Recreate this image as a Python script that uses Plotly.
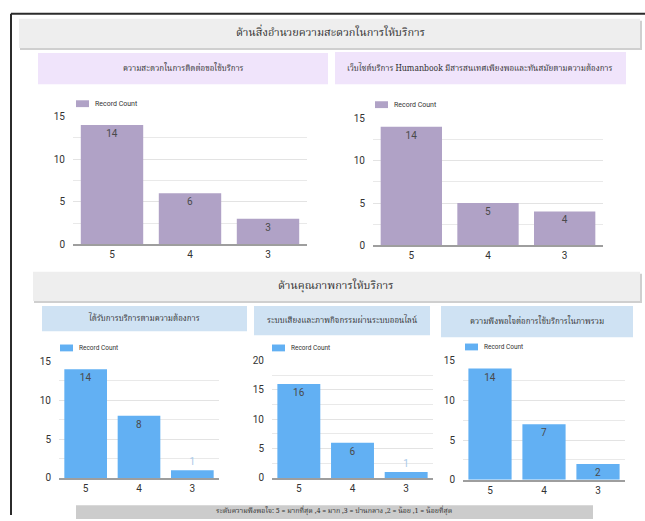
import plotly.graph_objects as go

W, H = 645, 521

# ---------------- data ----------------
categories = ["5", "4", "3"]
chart_titles = [
    "ความสะดวกในการติดต่อขอใช้บริการ",
    "เว็บไซต์บริการ Humanbook มีสารสนเทศเพียงพอและทันสมัยตามความต้องการ",
    "ได้รับการบริการตามความต้องการ",
    "ระบบเสียงและภาพกิจกรรมผ่านระบบออนไลน์",
    "ความพึงพอใจต่อการใช้บริการในภาพรวม",
]
values_c1 = [14, 6, 3]
values_c2 = [14, 5, 4]
values_c3 = [14, 8, 1]
values_c4 = [16, 6, 1]
values_c5 = [14, 7, 2]
y_max = [15, 15, 15, 20, 15]
series_name = "Record Count"
header_top = "ด้านสิ่งอำนวยความสะดวกในการให้บริการ"
header_bottom = "ด้านคุณภาพการให้บริการ"
footer_text = "ระดับความพึงพอใจ: 5 = มากที่สุด ,4 = มาก ,3 = ปานกลาง ,2 = น้อย ,1 = น้อยที่สุด"

PURPLE = "#b0a2c6"
BLUE = "#62b0f3"
THAI_FONT = "Noto Serif Thai, Noto Sans Thai, Tahoma, DejaVu Sans, sans-serif"
NUM_FONT = "Roboto, Arial, sans-serif"


def px(x):
    return x / W


def py(y):
    return 1 - y / H


# layout of each chart: (x0, x1, ytop, ybottom) in pixels
boxes = [
    (73, 307, 113, 244),
    (373, 603, 115, 245),
    (59, 219, 364, 483),
    (272, 433, 363, 483),
    (463, 625, 363, 485),
]
# legend: swatch left x, centre y, font size
legend_pos = [(76, 100, 7), (375, 101, 7), (60, 350, 6.5), (272, 350, 6.5), (465, 349, 6.5)]
series = [values_c1, values_c2, values_c3, values_c4, values_c5]
colors = [PURPLE, PURPLE, BLUE, BLUE, BLUE]

fig = go.Figure()
layout = dict(
    width=W, height=H, margin=dict(l=0, r=0, t=0, b=0),
    paper_bgcolor="white", plot_bgcolor="white",
    showlegend=False, bargap=0.2,
)

shapes = []
annotations = []


def rect(x0, y0, x1, y1, fill, line=None, layer="below"):
    shapes.append(dict(type="rect", xref="paper", yref="paper",
                       x0=px(x0), x1=px(x1), y0=py(y1), y1=py(y0),
                       fillcolor=fill, line=dict(width=0) if line is None else line,
                       layer=layer))


def text(x, y, s, size, color="#333333", family=THAI_FONT, anchor="center"):
    annotations.append(dict(xref="paper", yref="paper", x=px(x), y=py(y),
                            text=s, showarrow=False, xanchor=anchor,
                            yanchor="middle",
                            font=dict(size=size, color=color, family=family)))


for i, (vals, col, (x0, x1, yt, yb), (lx, ly, lfs), ymx) in enumerate(
        zip(series, colors, boxes, legend_pos, y_max)):
    n = i + 1
    xa = "x" if n == 1 else f"x{n}"
    ya = "y" if n == 1 else f"y{n}"
    positions = ["inside" if v >= 2 else "outside" for v in vals]
    tcolors = ["#4a4a4a" if v >= 2 else "#a9c9e8" for v in vals]
    fig.add_trace(go.Bar(
        x=categories, y=vals, name=series_name, marker_color=col,
        marker_line_width=0, xaxis=xa, yaxis=ya,
        text=[str(v) for v in vals], textposition=positions,
        insidetextanchor="end", textangle=0, constraintext="none",
        textfont=dict(color=tcolors, size=10, family=NUM_FONT),
        cliponaxis=False, hoverinfo="skip",
    ))
    xkey = "xaxis" if n == 1 else f"xaxis{n}"
    ykey = "yaxis" if n == 1 else f"yaxis{n}"
    layout[xkey] = dict(
        domain=[px(x0), px(x1)], anchor=ya, showgrid=False,
        showline=True, linecolor="#9e9e9e", linewidth=1.5,
        tickfont=dict(size=10, color="#333333", family=NUM_FONT), ticks="",
        fixedrange=True,
    )
    layout[ykey] = dict(
        domain=[py(yb), py(yt)], anchor=xa, range=[0, ymx], dtick=5,
        showgrid=True, gridcolor="#e3e3e3", gridwidth=1, zeroline=False,
        minor=dict(dtick=2.5, showgrid=True, gridcolor="#e9e9e9"),
        tickfont=dict(size=10, color="#333333", family=NUM_FONT), ticks="",
        ticklabelstandoff=7, fixedrange=True,
    )
    # legend (swatch + label)
    rect(lx, ly - 3.5, lx + 13, ly + 3.5, col, layer="above")
    text(lx + 17, ly, series_name, lfs, family=NUM_FONT, anchor="left")

# frame lines
shapes.append(dict(type="line", xref="paper", yref="paper", x0=px(11), x1=1,
                   y0=py(8), y1=py(8), line=dict(color="#2b2b2b", width=2)))
shapes.append(dict(type="line", xref="paper", yref="paper", x0=px(11), x1=px(11),
                   y0=py(8), y1=0, line=dict(color="#2b2b2b", width=2)))

# top header with shadow
rect(20, 15, 642, 45, "#cfcfcf")
rect(19, 13, 640, 43, "#eeeeee")
text(330, 28, header_top, 11)

# purple title boxes
rect(38, 48, 328, 80, "#f0e4fb")
rect(335, 47, 626, 80, "#f0e4fb")
text(183, 64, chart_titles[0], 8)
text(480, 64, chart_titles[1], 8)

# bottom header with shadow
rect(34, 274, 642, 304, "#cfcfcf")
rect(33, 272, 640, 302, "#eeeeee")
text(336, 287, header_bottom, 11)

# blue title boxes
rect(42, 307, 247, 333, "#cfe2f3")
rect(254, 307, 430, 337, "#cfe2f3")
rect(441, 307, 633, 339, "#cfe2f3")
text(144, 320, chart_titles[2], 8)
text(342, 322, chart_titles[3], 8)
text(537, 323, chart_titles[4], 8)

# footer
rect(76, 511, 593, 525, "#cccccc")
text(334, 517, footer_text, 7)

layout["shapes"] = shapes
layout["annotations"] = annotations
fig.update_layout(**layout)
fig.write_html("out.html")
